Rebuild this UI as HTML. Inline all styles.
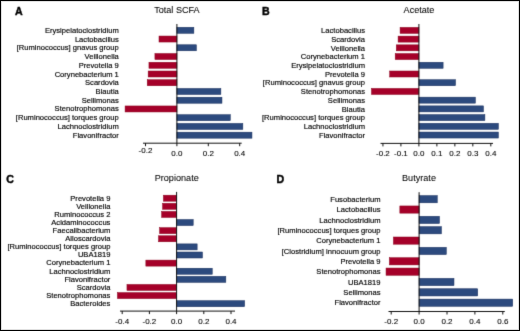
<!DOCTYPE html><html><head><meta charset="utf-8"><title>SCFA correlations</title><style>html,body{margin:0;padding:0;background:#fff;}body{width:520px;height:331px;overflow:hidden;}svg{display:block;}#wrap{will-change:transform;width:520px;height:331px;}</style></head><body><div id="wrap">
<svg width="520" height="331" viewBox="0 0 520 331" font-family='"Liberation Sans", sans-serif'>
<defs><filter id="soft" x="0" y="0" width="520" height="331" filterUnits="userSpaceOnUse" color-interpolation-filters="sRGB"><feConvolveMatrix order="3" kernelMatrix="0.0100 0.0800 0.0100 0.0800 0.6400 0.0800 0.0100 0.0800 0.0100" divisor="1" edgeMode="duplicate"/></filter></defs>
<g filter="url(#soft)">
<rect x="0" y="0" width="520" height="331" fill="#fff"/>
<g><rect x="176.90" y="27.30" width="16.96" height="6.0" fill="#2c4a7e" stroke="#142b5a" stroke-width="0.5"/>
<rect x="159.00" y="36.04" width="17.90" height="6.0" fill="#a50029" stroke="#8a001c" stroke-width="0.5"/>
<rect x="176.90" y="44.78" width="19.47" height="6.0" fill="#2c4a7e" stroke="#142b5a" stroke-width="0.5"/>
<rect x="154.92" y="53.52" width="21.98" height="6.0" fill="#a50029" stroke="#8a001c" stroke-width="0.5"/>
<rect x="148.95" y="62.26" width="27.95" height="6.0" fill="#a50029" stroke="#8a001c" stroke-width="0.5"/>
<rect x="148.17" y="71.00" width="28.73" height="6.0" fill="#a50029" stroke="#8a001c" stroke-width="0.5"/>
<rect x="147.23" y="79.74" width="29.67" height="6.0" fill="#a50029" stroke="#8a001c" stroke-width="0.5"/>
<rect x="176.90" y="88.48" width="43.96" height="6.0" fill="#2c4a7e" stroke="#142b5a" stroke-width="0.5"/>
<rect x="176.90" y="97.22" width="45.06" height="6.0" fill="#2c4a7e" stroke="#142b5a" stroke-width="0.5"/>
<rect x="125.09" y="105.96" width="51.81" height="6.0" fill="#a50029" stroke="#8a001c" stroke-width="0.5"/>
<rect x="176.90" y="114.70" width="53.38" height="6.0" fill="#2c4a7e" stroke="#142b5a" stroke-width="0.5"/>
<rect x="176.90" y="123.44" width="65.94" height="6.0" fill="#2c4a7e" stroke="#142b5a" stroke-width="0.5"/>
<rect x="176.90" y="132.18" width="75.05" height="6.0" fill="#2c4a7e" stroke="#142b5a" stroke-width="0.5"/>
<line x1="176.9" y1="24.0" x2="176.9" y2="143.2" stroke="#111" stroke-width="1"/>
<line x1="143.0" y1="143.2" x2="241.7" y2="143.2" stroke="#111" stroke-width="1"/>
<line x1="145.50" y1="143.2" x2="145.50" y2="146.2" stroke="#111" stroke-width="1"/>
<line x1="176.90" y1="143.2" x2="176.90" y2="146.2" stroke="#111" stroke-width="1"/>
<line x1="208.30" y1="143.2" x2="208.30" y2="146.2" stroke="#111" stroke-width="1"/>
<line x1="239.70" y1="143.2" x2="239.70" y2="146.2" stroke="#111" stroke-width="1"/>
<rect x="400.09" y="27.40" width="18.81" height="6.0" fill="#a50029" stroke="#8a001c" stroke-width="0.5"/>
<rect x="398.10" y="36.12" width="20.80" height="6.0" fill="#a50029" stroke="#8a001c" stroke-width="0.5"/>
<rect x="396.30" y="44.84" width="22.60" height="6.0" fill="#a50029" stroke="#8a001c" stroke-width="0.5"/>
<rect x="395.20" y="53.56" width="23.70" height="6.0" fill="#a50029" stroke="#8a001c" stroke-width="0.5"/>
<rect x="418.90" y="62.28" width="24.20" height="6.0" fill="#2c4a7e" stroke="#142b5a" stroke-width="0.5"/>
<rect x="389.70" y="71.00" width="29.20" height="6.0" fill="#a50029" stroke="#8a001c" stroke-width="0.5"/>
<rect x="418.90" y="79.72" width="36.61" height="6.0" fill="#2c4a7e" stroke="#142b5a" stroke-width="0.5"/>
<rect x="371.50" y="88.44" width="47.40" height="6.0" fill="#a50029" stroke="#8a001c" stroke-width="0.5"/>
<rect x="418.90" y="97.16" width="56.46" height="6.0" fill="#2c4a7e" stroke="#142b5a" stroke-width="0.5"/>
<rect x="418.90" y="105.88" width="64.55" height="6.0" fill="#2c4a7e" stroke="#142b5a" stroke-width="0.5"/>
<rect x="418.90" y="114.60" width="65.99" height="6.0" fill="#2c4a7e" stroke="#142b5a" stroke-width="0.5"/>
<rect x="418.90" y="123.32" width="79.47" height="6.0" fill="#2c4a7e" stroke="#142b5a" stroke-width="0.5"/>
<rect x="418.90" y="132.04" width="79.47" height="6.0" fill="#2c4a7e" stroke="#142b5a" stroke-width="0.5"/>
<line x1="418.9" y1="24.0" x2="418.9" y2="143.4" stroke="#111" stroke-width="1"/>
<line x1="380.5" y1="143.4" x2="493.0" y2="143.4" stroke="#111" stroke-width="1"/>
<line x1="382.94" y1="143.4" x2="382.94" y2="146.4" stroke="#111" stroke-width="1"/>
<line x1="400.92" y1="143.4" x2="400.92" y2="146.4" stroke="#111" stroke-width="1"/>
<line x1="418.90" y1="143.4" x2="418.90" y2="146.4" stroke="#111" stroke-width="1"/>
<line x1="436.88" y1="143.4" x2="436.88" y2="146.4" stroke="#111" stroke-width="1"/>
<line x1="454.86" y1="143.4" x2="454.86" y2="146.4" stroke="#111" stroke-width="1"/>
<line x1="472.84" y1="143.4" x2="472.84" y2="146.4" stroke="#111" stroke-width="1"/>
<line x1="490.82" y1="143.4" x2="490.82" y2="146.4" stroke="#111" stroke-width="1"/>
<rect x="163.41" y="195.20" width="13.19" height="6.0" fill="#a50029" stroke="#8a001c" stroke-width="0.5"/>
<rect x="162.59" y="203.31" width="14.01" height="6.0" fill="#a50029" stroke="#8a001c" stroke-width="0.5"/>
<rect x="161.64" y="211.43" width="14.96" height="6.0" fill="#a50029" stroke="#8a001c" stroke-width="0.5"/>
<rect x="176.60" y="219.54" width="16.59" height="6.0" fill="#2c4a7e" stroke="#142b5a" stroke-width="0.5"/>
<rect x="159.60" y="227.66" width="17.00" height="6.0" fill="#a50029" stroke="#8a001c" stroke-width="0.5"/>
<rect x="158.51" y="235.77" width="18.09" height="6.0" fill="#a50029" stroke="#8a001c" stroke-width="0.5"/>
<rect x="176.60" y="243.89" width="20.54" height="6.0" fill="#2c4a7e" stroke="#142b5a" stroke-width="0.5"/>
<rect x="176.60" y="252.00" width="25.84" height="6.0" fill="#2c4a7e" stroke="#142b5a" stroke-width="0.5"/>
<rect x="145.86" y="260.12" width="30.74" height="6.0" fill="#a50029" stroke="#8a001c" stroke-width="0.5"/>
<rect x="176.60" y="268.24" width="35.63" height="6.0" fill="#2c4a7e" stroke="#142b5a" stroke-width="0.5"/>
<rect x="176.60" y="276.35" width="49.23" height="6.0" fill="#2c4a7e" stroke="#142b5a" stroke-width="0.5"/>
<rect x="126.96" y="284.46" width="49.64" height="6.0" fill="#a50029" stroke="#8a001c" stroke-width="0.5"/>
<rect x="117.44" y="292.58" width="59.16" height="6.0" fill="#a50029" stroke="#8a001c" stroke-width="0.5"/>
<rect x="176.60" y="300.69" width="68.00" height="6.0" fill="#2c4a7e" stroke="#142b5a" stroke-width="0.5"/>
<line x1="176.6" y1="191.9" x2="176.6" y2="311.1" stroke="#111" stroke-width="1"/>
<line x1="120.0" y1="311.1" x2="235.0" y2="311.1" stroke="#111" stroke-width="1"/>
<line x1="122.20" y1="311.1" x2="122.20" y2="314.1" stroke="#111" stroke-width="1"/>
<line x1="149.40" y1="311.1" x2="149.40" y2="314.1" stroke="#111" stroke-width="1"/>
<line x1="176.60" y1="311.1" x2="176.60" y2="314.1" stroke="#111" stroke-width="1"/>
<line x1="203.80" y1="311.1" x2="203.80" y2="314.1" stroke="#111" stroke-width="1"/>
<line x1="231.00" y1="311.1" x2="231.00" y2="314.1" stroke="#111" stroke-width="1"/>
<rect x="419.10" y="195.60" width="18.14" height="7.2" fill="#2c4a7e" stroke="#142b5a" stroke-width="0.5"/>
<rect x="399.85" y="205.95" width="19.25" height="7.2" fill="#a50029" stroke="#8a001c" stroke-width="0.5"/>
<rect x="419.10" y="216.30" width="20.37" height="7.2" fill="#2c4a7e" stroke="#142b5a" stroke-width="0.5"/>
<rect x="419.10" y="226.65" width="22.32" height="7.2" fill="#2c4a7e" stroke="#142b5a" stroke-width="0.5"/>
<rect x="393.43" y="237.00" width="25.67" height="7.2" fill="#a50029" stroke="#8a001c" stroke-width="0.5"/>
<rect x="419.10" y="247.35" width="27.20" height="7.2" fill="#2c4a7e" stroke="#142b5a" stroke-width="0.5"/>
<rect x="389.39" y="257.70" width="29.71" height="7.2" fill="#a50029" stroke="#8a001c" stroke-width="0.5"/>
<rect x="386.04" y="268.05" width="33.06" height="7.2" fill="#a50029" stroke="#8a001c" stroke-width="0.5"/>
<rect x="419.10" y="278.40" width="34.88" height="7.2" fill="#2c4a7e" stroke="#142b5a" stroke-width="0.5"/>
<rect x="419.10" y="288.75" width="58.59" height="7.2" fill="#2c4a7e" stroke="#142b5a" stroke-width="0.5"/>
<rect x="419.10" y="299.10" width="93.60" height="7.2" fill="#2c4a7e" stroke="#142b5a" stroke-width="0.5"/>
<line x1="419.1" y1="192.2" x2="419.1" y2="311.5" stroke="#111" stroke-width="1"/>
<line x1="388.5" y1="311.5" x2="504.8" y2="311.5" stroke="#111" stroke-width="1"/>
<line x1="391.20" y1="311.5" x2="391.20" y2="314.5" stroke="#111" stroke-width="1"/>
<line x1="419.10" y1="311.5" x2="419.10" y2="314.5" stroke="#111" stroke-width="1"/>
<line x1="447.00" y1="311.5" x2="447.00" y2="314.5" stroke="#111" stroke-width="1"/>
<line x1="474.90" y1="311.5" x2="474.90" y2="314.5" stroke="#111" stroke-width="1"/>
<line x1="502.80" y1="311.5" x2="502.80" y2="314.5" stroke="#111" stroke-width="1"/></g>
<g><text transform="translate(15.0,15.0) scale(0.9,1)" font-size="11.8" font-weight="bold" fill="#000" stroke="#000" stroke-width="0.45">A</text>
<text transform="translate(176.9,13.0) scale(0.93,1)" font-size="9.8" fill="#000" stroke="#000" stroke-width="0.06" text-anchor="middle">Total SCFA</text>
<text transform="translate(118.8,32.80) scale(0.95,1)" font-size="8.0" fill="#000" stroke="#000" stroke-width="0.16" text-anchor="end">Erysipelatoclostridium</text>
<text transform="translate(118.8,41.54) scale(0.95,1)" font-size="8.0" fill="#000" stroke="#000" stroke-width="0.16" text-anchor="end">Lactobacillus</text>
<text transform="translate(118.8,50.28) scale(0.95,1)" font-size="8.0" fill="#000" stroke="#000" stroke-width="0.16" text-anchor="end">[Ruminococcus] gnavus group</text>
<text transform="translate(118.8,59.02) scale(0.95,1)" font-size="8.0" fill="#000" stroke="#000" stroke-width="0.16" text-anchor="end">Veillonella</text>
<text transform="translate(118.8,67.76) scale(0.95,1)" font-size="8.0" fill="#000" stroke="#000" stroke-width="0.16" text-anchor="end">Prevotella 9</text>
<text transform="translate(118.8,76.50) scale(0.95,1)" font-size="8.0" fill="#000" stroke="#000" stroke-width="0.16" text-anchor="end">Corynebacterium 1</text>
<text transform="translate(118.8,85.24) scale(0.95,1)" font-size="8.0" fill="#000" stroke="#000" stroke-width="0.16" text-anchor="end">Scardovia</text>
<text transform="translate(118.8,93.98) scale(0.95,1)" font-size="8.0" fill="#000" stroke="#000" stroke-width="0.16" text-anchor="end">Blautia</text>
<text transform="translate(118.8,102.72) scale(0.95,1)" font-size="8.0" fill="#000" stroke="#000" stroke-width="0.16" text-anchor="end">Sellimonas</text>
<text transform="translate(118.8,111.46) scale(0.95,1)" font-size="8.0" fill="#000" stroke="#000" stroke-width="0.16" text-anchor="end">Stenotrophomonas</text>
<text transform="translate(118.8,120.20) scale(0.95,1)" font-size="8.0" fill="#000" stroke="#000" stroke-width="0.16" text-anchor="end">[Ruminococcus] torques group</text>
<text transform="translate(118.8,128.94) scale(0.95,1)" font-size="8.0" fill="#000" stroke="#000" stroke-width="0.16" text-anchor="end">Lachnoclostridium</text>
<text transform="translate(118.8,137.68) scale(0.95,1)" font-size="8.0" fill="#000" stroke="#000" stroke-width="0.16" text-anchor="end">Flavonifractor</text>
<text x="145.50" y="153.2" font-size="8.0" fill="#000" stroke="#000" stroke-width="0.08" text-anchor="middle">-0.2</text>
<text x="176.90" y="156.2" font-size="8.0" fill="#000" stroke="#000" stroke-width="0.08" text-anchor="middle">0.0</text>
<text x="208.30" y="156.2" font-size="8.0" fill="#000" stroke="#000" stroke-width="0.08" text-anchor="middle">0.2</text>
<text x="239.70" y="156.2" font-size="8.0" fill="#000" stroke="#000" stroke-width="0.08" text-anchor="middle">0.4</text>
<text transform="translate(262.0,15.0) scale(0.9,1)" font-size="11.8" font-weight="bold" fill="#000" stroke="#000" stroke-width="0.45">B</text>
<text transform="translate(419.0,13.0) scale(0.93,1)" font-size="9.8" fill="#000" stroke="#000" stroke-width="0.06" text-anchor="middle">Acetate</text>
<text transform="translate(365.0,33.10) scale(0.95,1)" font-size="8.0" fill="#000" stroke="#000" stroke-width="0.16" text-anchor="end">Lactobacillus</text>
<text transform="translate(365.0,41.82) scale(0.95,1)" font-size="8.0" fill="#000" stroke="#000" stroke-width="0.16" text-anchor="end">Scardovia</text>
<text transform="translate(365.0,50.54) scale(0.95,1)" font-size="8.0" fill="#000" stroke="#000" stroke-width="0.16" text-anchor="end">Veillonella</text>
<text transform="translate(365.0,59.26) scale(0.95,1)" font-size="8.0" fill="#000" stroke="#000" stroke-width="0.16" text-anchor="end">Corynebacterium 1</text>
<text transform="translate(365.0,67.98) scale(0.95,1)" font-size="8.0" fill="#000" stroke="#000" stroke-width="0.16" text-anchor="end">Erysipelatoclostridium</text>
<text transform="translate(365.0,76.70) scale(0.95,1)" font-size="8.0" fill="#000" stroke="#000" stroke-width="0.16" text-anchor="end">Prevotella 9</text>
<text transform="translate(365.0,85.42) scale(0.95,1)" font-size="8.0" fill="#000" stroke="#000" stroke-width="0.16" text-anchor="end">[Ruminococcus] gnavus group</text>
<text transform="translate(365.0,94.14) scale(0.95,1)" font-size="8.0" fill="#000" stroke="#000" stroke-width="0.16" text-anchor="end">Stenotrophomonas</text>
<text transform="translate(365.0,102.86) scale(0.95,1)" font-size="8.0" fill="#000" stroke="#000" stroke-width="0.16" text-anchor="end">Sellimonas</text>
<text transform="translate(365.0,111.58) scale(0.95,1)" font-size="8.0" fill="#000" stroke="#000" stroke-width="0.16" text-anchor="end">Blautia</text>
<text transform="translate(365.0,120.30) scale(0.95,1)" font-size="8.0" fill="#000" stroke="#000" stroke-width="0.16" text-anchor="end">[Ruminococcus] torques group</text>
<text transform="translate(365.0,129.02) scale(0.95,1)" font-size="8.0" fill="#000" stroke="#000" stroke-width="0.16" text-anchor="end">Lachnoclostridium</text>
<text transform="translate(365.0,137.74) scale(0.95,1)" font-size="8.0" fill="#000" stroke="#000" stroke-width="0.16" text-anchor="end">Flavonifractor</text>
<text x="382.94" y="155.7" font-size="8.0" fill="#000" stroke="#000" stroke-width="0.08" text-anchor="middle">-0.2</text>
<text x="400.92" y="155.7" font-size="8.0" fill="#000" stroke="#000" stroke-width="0.08" text-anchor="middle">-0.1</text>
<text x="418.90" y="155.7" font-size="8.0" fill="#000" stroke="#000" stroke-width="0.08" text-anchor="middle">0.0</text>
<text x="436.88" y="155.7" font-size="8.0" fill="#000" stroke="#000" stroke-width="0.08" text-anchor="middle">0.1</text>
<text x="454.86" y="155.7" font-size="8.0" fill="#000" stroke="#000" stroke-width="0.08" text-anchor="middle">0.2</text>
<text x="472.84" y="155.7" font-size="8.0" fill="#000" stroke="#000" stroke-width="0.08" text-anchor="middle">0.3</text>
<text x="490.82" y="155.7" font-size="8.0" fill="#000" stroke="#000" stroke-width="0.08" text-anchor="middle">0.4</text>
<text transform="translate(6.2,182.6) scale(0.9,1)" font-size="11.8" font-weight="bold" fill="#000" stroke="#000" stroke-width="0.45">C</text>
<text transform="translate(176.7,180.8) scale(0.93,1)" font-size="9.8" fill="#000" stroke="#000" stroke-width="0.06" text-anchor="middle">Propionate</text>
<text transform="translate(110.4,200.50) scale(0.95,1)" font-size="8.0" fill="#000" stroke="#000" stroke-width="0.16" text-anchor="end">Prevotella 9</text>
<text transform="translate(110.4,208.62) scale(0.95,1)" font-size="8.0" fill="#000" stroke="#000" stroke-width="0.16" text-anchor="end">Veillonella</text>
<text transform="translate(110.4,216.73) scale(0.95,1)" font-size="8.0" fill="#000" stroke="#000" stroke-width="0.16" text-anchor="end">Ruminococcus 2</text>
<text transform="translate(110.4,224.84) scale(0.95,1)" font-size="8.0" fill="#000" stroke="#000" stroke-width="0.16" text-anchor="end">Acidaminococcus</text>
<text transform="translate(110.4,232.96) scale(0.95,1)" font-size="8.0" fill="#000" stroke="#000" stroke-width="0.16" text-anchor="end">Faecalibacterium</text>
<text transform="translate(110.4,241.07) scale(0.95,1)" font-size="8.0" fill="#000" stroke="#000" stroke-width="0.16" text-anchor="end">Alloscardovia</text>
<text transform="translate(110.4,249.19) scale(0.95,1)" font-size="8.0" fill="#000" stroke="#000" stroke-width="0.16" text-anchor="end">[Ruminococcus] torques group</text>
<text transform="translate(110.4,257.31) scale(0.95,1)" font-size="8.0" fill="#000" stroke="#000" stroke-width="0.16" text-anchor="end">UBA1819</text>
<text transform="translate(110.4,265.42) scale(0.95,1)" font-size="8.0" fill="#000" stroke="#000" stroke-width="0.16" text-anchor="end">Corynebacterium 1</text>
<text transform="translate(110.4,273.54) scale(0.95,1)" font-size="8.0" fill="#000" stroke="#000" stroke-width="0.16" text-anchor="end">Lachnoclostridium</text>
<text transform="translate(110.4,281.65) scale(0.95,1)" font-size="8.0" fill="#000" stroke="#000" stroke-width="0.16" text-anchor="end">Flavonifractor</text>
<text transform="translate(110.4,289.76) scale(0.95,1)" font-size="8.0" fill="#000" stroke="#000" stroke-width="0.16" text-anchor="end">Scardovia</text>
<text transform="translate(110.4,297.88) scale(0.95,1)" font-size="8.0" fill="#000" stroke="#000" stroke-width="0.16" text-anchor="end">Stenotrophomonas</text>
<text transform="translate(110.4,306.00) scale(0.95,1)" font-size="8.0" fill="#000" stroke="#000" stroke-width="0.16" text-anchor="end">Bacteroides</text>
<text x="122.20" y="323.8" font-size="8.0" fill="#000" stroke="#000" stroke-width="0.08" text-anchor="middle">-0.4</text>
<text x="149.40" y="323.8" font-size="8.0" fill="#000" stroke="#000" stroke-width="0.08" text-anchor="middle">-0.2</text>
<text x="176.60" y="323.8" font-size="8.0" fill="#000" stroke="#000" stroke-width="0.08" text-anchor="middle">0.0</text>
<text x="203.80" y="323.8" font-size="8.0" fill="#000" stroke="#000" stroke-width="0.08" text-anchor="middle">0.2</text>
<text x="231.00" y="323.8" font-size="8.0" fill="#000" stroke="#000" stroke-width="0.08" text-anchor="middle">0.4</text>
<text transform="translate(276.6,182.6) scale(0.9,1)" font-size="11.8" font-weight="bold" fill="#000" stroke="#000" stroke-width="0.45">D</text>
<text transform="translate(419.0,180.8) scale(0.93,1)" font-size="9.8" fill="#000" stroke="#000" stroke-width="0.06" text-anchor="middle">Butyrate</text>
<text transform="translate(380.5,201.90) scale(0.95,1)" font-size="8.0" fill="#000" stroke="#000" stroke-width="0.16" text-anchor="end">Fusobacterium</text>
<text transform="translate(380.5,212.25) scale(0.95,1)" font-size="8.0" fill="#000" stroke="#000" stroke-width="0.16" text-anchor="end">Lactobacillus</text>
<text transform="translate(380.5,222.60) scale(0.95,1)" font-size="8.0" fill="#000" stroke="#000" stroke-width="0.16" text-anchor="end">Lachnoclostridium</text>
<text transform="translate(380.5,232.95) scale(0.95,1)" font-size="8.0" fill="#000" stroke="#000" stroke-width="0.16" text-anchor="end">[Ruminococcus] torques group</text>
<text transform="translate(380.5,243.30) scale(0.95,1)" font-size="8.0" fill="#000" stroke="#000" stroke-width="0.16" text-anchor="end">Corynebacterium 1</text>
<text transform="translate(380.5,253.65) scale(0.95,1)" font-size="8.0" fill="#000" stroke="#000" stroke-width="0.16" text-anchor="end">[Clostridium] innocuum group</text>
<text transform="translate(380.5,264.00) scale(0.95,1)" font-size="8.0" fill="#000" stroke="#000" stroke-width="0.16" text-anchor="end">Prevotella 9</text>
<text transform="translate(380.5,274.35) scale(0.95,1)" font-size="8.0" fill="#000" stroke="#000" stroke-width="0.16" text-anchor="end">Stenotrophomonas</text>
<text transform="translate(380.5,284.70) scale(0.95,1)" font-size="8.0" fill="#000" stroke="#000" stroke-width="0.16" text-anchor="end">UBA1819</text>
<text transform="translate(380.5,295.05) scale(0.95,1)" font-size="8.0" fill="#000" stroke="#000" stroke-width="0.16" text-anchor="end">Sellimonas</text>
<text transform="translate(380.5,305.40) scale(0.95,1)" font-size="8.0" fill="#000" stroke="#000" stroke-width="0.16" text-anchor="end">Flavonifractor</text>
<text x="391.20" y="323.5" font-size="8.0" fill="#000" stroke="#000" stroke-width="0.08" text-anchor="middle">-0.2</text>
<text x="419.10" y="323.5" font-size="8.0" fill="#000" stroke="#000" stroke-width="0.08" text-anchor="middle">0.0</text>
<text x="447.00" y="323.5" font-size="8.0" fill="#000" stroke="#000" stroke-width="0.08" text-anchor="middle">0.2</text>
<text x="474.90" y="323.5" font-size="8.0" fill="#000" stroke="#000" stroke-width="0.08" text-anchor="middle">0.4</text>
<text x="502.80" y="323.5" font-size="8.0" fill="#000" stroke="#000" stroke-width="0.08" text-anchor="middle">0.6</text></g>
</g>
<rect x="1.5" y="1.5" width="517" height="328" fill="none" stroke="#000" stroke-width="1" stroke-opacity="0.12"/>
<rect x="0.5" y="0.5" width="519" height="330" fill="none" stroke="#000" stroke-width="1"/>
</svg></div></body></html>
